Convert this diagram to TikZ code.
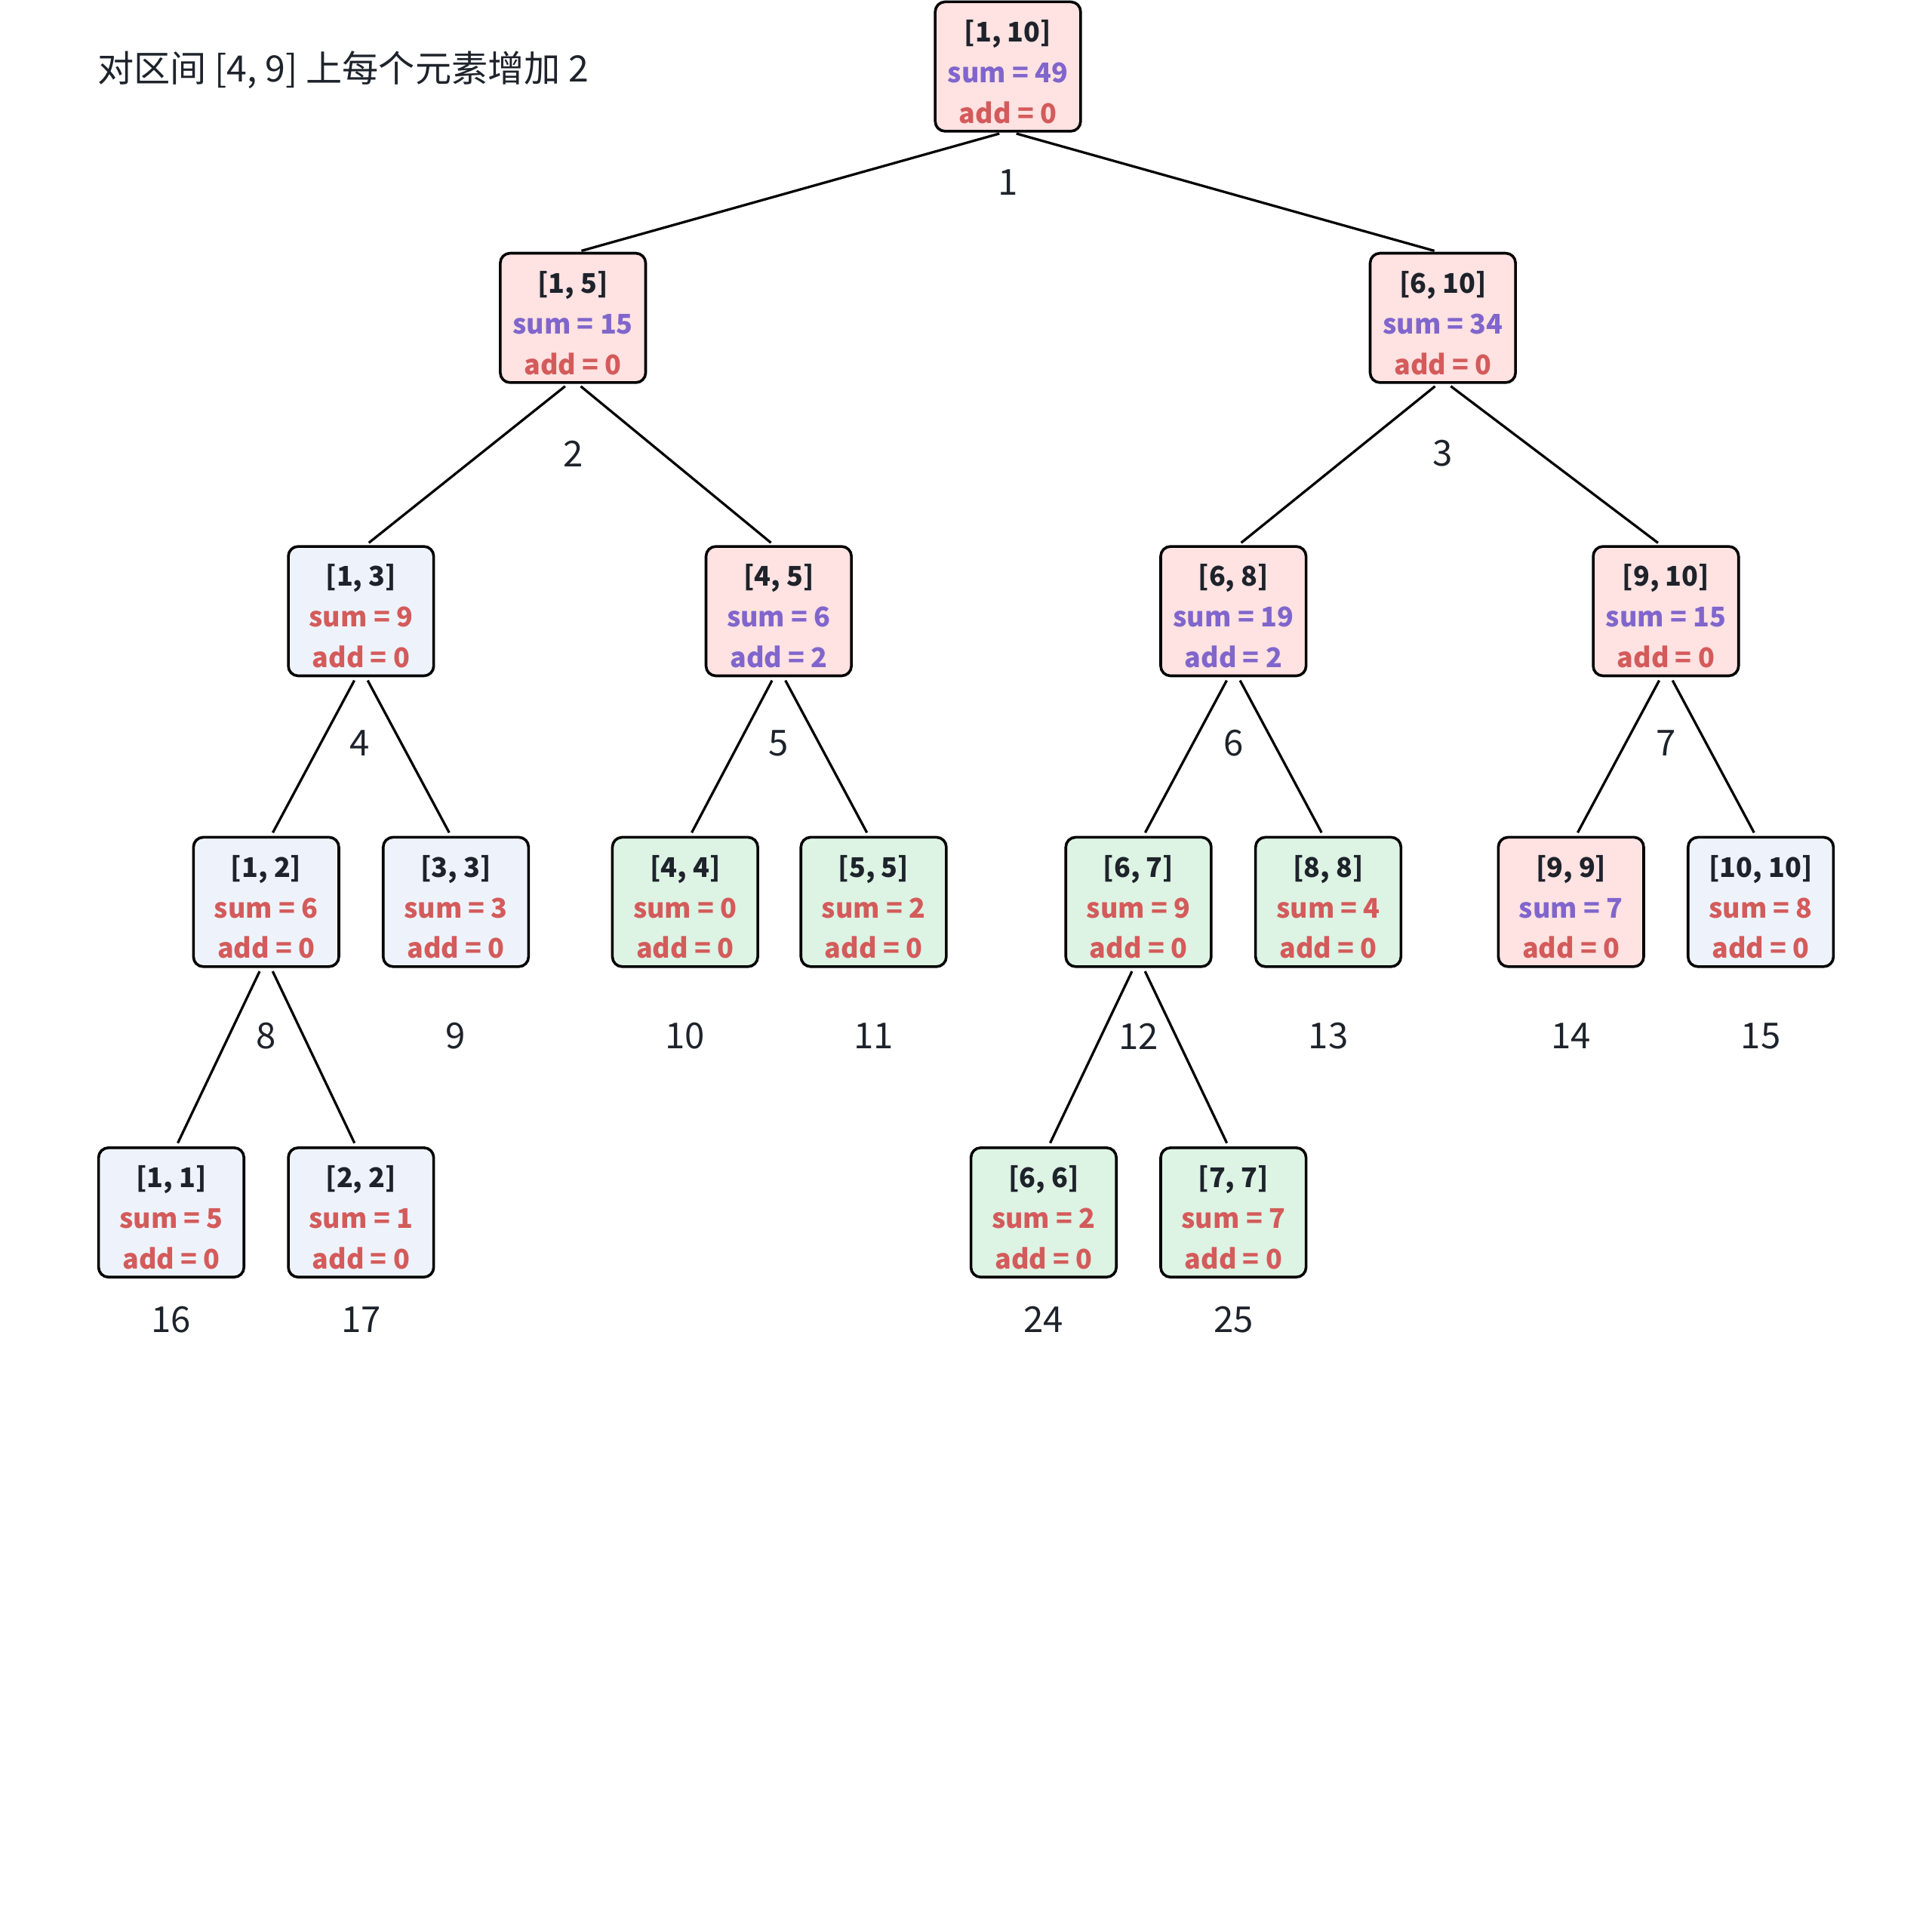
\documentclass[tikz,border=0pt]{standalone}
\usepackage{fontspec}
\setmainfont{Noto Sans CJK SC}
\usepackage{tikz}
\usetikzlibrary{positioning}
\definecolor{inkdark}{HTML}{1E232B}
\definecolor{sumpurple}{HTML}{8066CC}
\definecolor{addred}{HTML}{D45B5B}
\definecolor{fillpink}{HTML}{FFE2E2}
\definecolor{fillblue}{HTML}{EEF3FB}
\definecolor{fillgreen}{HTML}{DDF3E3}
\tikzset{
  segbox/.style={ draw=black, line width=2.2pt, rounded corners=8pt, minimum width=118pt, minimum height=105pt, inner sep=0pt, align=center, text=inkdark, font=\fontsize{22}{33}\selectfont }
}
\tikzset{
  segP/.style={ segbox, fill=fillpink },
  segB/.style={ segbox, fill=fillblue },
  segG/.style={ segbox, fill=fillgreen }
}
\tikzset{
  idx/.style={ text=inkdark, font=\fontsize{29}{29}\selectfont, inner sep=0pt },
  branch/.style={ line width=2pt, shorten <=3pt, shorten >=3pt }
}
\newcommand{\segtxt}[5]{\rule{0pt}{26pt}\textbf{[#1]}\\\textcolor{#2}{\textbf{sum = #3}}\\\textcolor{#4}{\textbf{add = #5}}}

\begin{document}
\begin{tikzpicture}[x=1pt, y=-1pt]
        \useasboundingbox (0,0) rectangle (1568,1568);
        \node[anchor=west, text=inkdark, font=\fontsize{29.5}{30}\selectfont, inner sep=0pt] (title) at (79, 57) {对区间 [4, 9] 上每个元素增加 2};
        % level 0 and 1
        \node[segP] (n1) at (818, 54) {\segtxt{1, 10}{sumpurple}{49}{addred}{0}};
        \node[segP] (n2) at (465, 258) {\segtxt{1, 5}{sumpurple}{15}{addred}{0}};
        \node[segP] (n3) at (1171, 258) {\segtxt{6, 10}{sumpurple}{34}{addred}{0}};
        % level 2
        \node[segB] (n4) at (293, 496) {\segtxt{1, 3}{addred}{9}{addred}{0}};
        \node[segP] (n5) at (632, 496) {\segtxt{4, 5}{sumpurple}{6}{sumpurple}{2}};
        \node[segP] (n6) at (1001, 496) {\segtxt{6, 8}{sumpurple}{19}{sumpurple}{2}};
        \node[segP] (n7) at (1352, 496) {\segtxt{9, 10}{sumpurple}{15}{addred}{0}};
        % level 3
        \node[segB] (n8) at (216, 732) {\segtxt{1, 2}{addred}{6}{addred}{0}};
        \node[segB] (n9) at (370, 732) {\segtxt{3, 3}{addred}{3}{addred}{0}};
        \node[segG] (n10) at (556, 732) {\segtxt{4, 4}{addred}{0}{addred}{0}};
        \node[segG] (n11) at (709, 732) {\segtxt{5, 5}{addred}{2}{addred}{0}};
        \node[segG] (n12) at (924, 732) {\segtxt{6, 7}{addred}{9}{addred}{0}};
        \node[segG] (n13) at (1078, 732) {\segtxt{8, 8}{addred}{4}{addred}{0}};
        \node[segP] (n14) at (1275, 732) {\segtxt{9, 9}{sumpurple}{7}{addred}{0}};
        \node[segB] (n15) at (1429, 732) {\segtxt{10, 10}{addred}{8}{addred}{0}};
        % level 4
        \node[segB] (n16) at (139, 984) {\segtxt{1, 1}{addred}{5}{addred}{0}};
        \node[segB] (n17) at (293, 984) {\segtxt{2, 2}{addred}{1}{addred}{0}};
        \node[segG] (n24) at (847, 984) {\segtxt{6, 6}{addred}{2}{addred}{0}};
        \node[segG] (n25) at (1001, 984) {\segtxt{7, 7}{addred}{7}{addred}{0}};
        % indices
        \node[idx] (i1) at (818, 148) {1};
        \node[idx] (i2) at (465, 368) {2};
        \node[idx] (i3) at (1171, 368) {3};
        \node[idx] (i4) at (292, 603) {4};
        \node[idx] (i5) at (632, 603) {5};
        \node[idx] (i6) at (1001, 603) {6};
        \node[idx] (i7) at (1352, 603) {7};
        \node[idx] (i8) at (216, 841) {8};
        \node[idx] (i9) at (370, 841) {9};
        \node[idx] (i10) at (556, 841) {10};
        \node[idx] (i11) at (709, 841) {11};
        \node[idx] (i12) at (924, 841) {12};
        \node[idx] (i13) at (1078, 841) {13};
        \node[idx] (i14) at (1275, 841) {14};
        \node[idx] (i15) at (1429, 841) {15};
        \node[idx] (i16) at (139, 1071) {16};
        \node[idx] (i17) at (293, 1071) {17};
        \node[idx] (i24) at (847, 1071) {24};
        \node[idx] (i25) at (1001, 1071) {25};
        % branches
        \foreach \p/\l/\r in {1/2/3, 2/4/5, 3/6/7, 4/8/9, 5/10/11, 6/12/13, 7/14/15, 8/16/17, 12/24/25} {
          \draw[branch] ([xshift=-4pt]n\p.south) -- ([xshift=4pt]n\l.north);
          \draw[branch] ([xshift=4pt]n\p.south) -- ([xshift=-4pt]n\r.north);
        }
      \end{tikzpicture}
\end{document}
